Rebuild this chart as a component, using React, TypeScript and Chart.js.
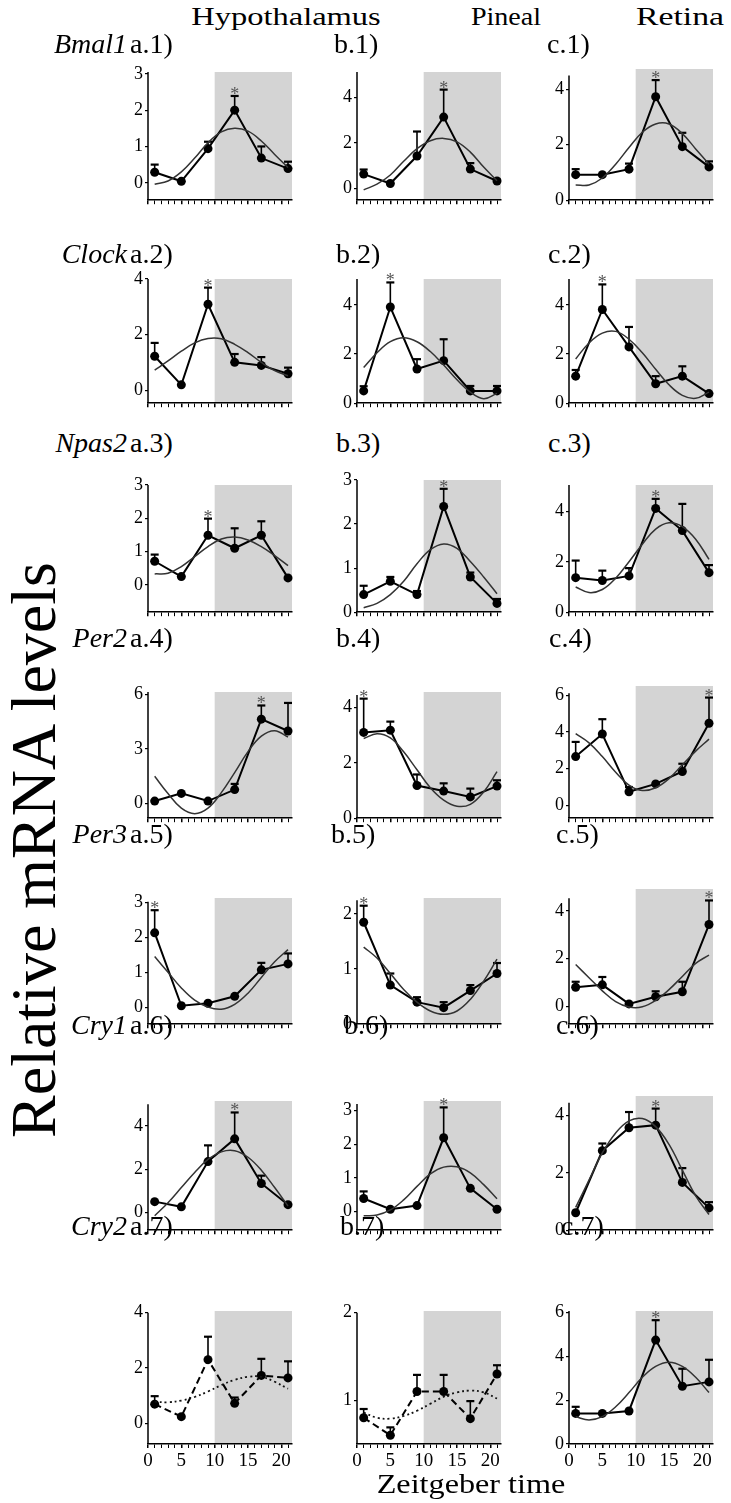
import React, { useEffect, useRef } from "react";
import { Chart, registerables } from "chart.js";

Chart.register(...registerables);

const FONT = "'Liberation Serif', 'Times New Roman', serif";

// ---------- shared axes ----------
const ZT = [1, 5, 9, 13, 17, 21];
const FIT_ZT = [1, 3, 5, 7, 9, 11, 13, 15, 17, 19, 21];
const X_TICKS = [0, 1, 2, 3, 4, 5, 6, 7, 8, 9, 10, 11, 12, 13, 14, 15, 16, 17, 18, 19, 20, 21];
const X_LABELED = [0, 5, 10, 15, 20];
const DARK_START = 10;
const X_MAX = 21.6;

const TISSUES = ["Hypothalamus", "Pineal", "Retina"];
const GENES = ["Bmal1", "Clock", "Npas2", "Per2", "Per3", "Cry1", "Cry2"];
const COLUMN_LETTERS = ["a", "b", "c"];

const TICKS_0123 = [0, 1, 2, 3];
const TICKS_024 = [0, 2, 4];
const TICKS_036 = [0, 3, 6];
const TICKS_0246 = [0, 2, 4, 6];
const TICKS_012 = [0, 1, 2];
const TICKS_12 = [1, 2];

// ---------- Bmal1 ----------
const bmal1HypMean = [0.29, 0.04, 0.94, 2.0, 0.68, 0.39];
const bmal1HypSem = [0.21, 0, 0.19, 0.39, 0.32, 0.19];
const bmal1HypFit = [-0.04, 0.05, 0.3, 0.68, 1.1, 1.4, 1.5, 1.42, 1.15, 0.78, 0.42];
const bmal1PinMean = [0.64, 0.23, 1.43, 3.13, 0.86, 0.34];
const bmal1PinSem = [0.2, 0, 1.07, 1.2, 0.26, 0.06];
const bmal1PinFit = [-0.05, 0.2, 0.6, 1.2, 1.75, 2.1, 2.2, 2.05, 1.6, 0.95, 0.35];
const bmal1RetMean = [0.92, 0.92, 1.12, 3.73, 1.93, 1.2];
const bmal1RetSem = [0.2, 0, 0.2, 0.6, 0.5, 0.2];
const bmal1RetFit = [0.55, 0.55, 0.8, 1.3, 1.9, 2.45, 2.75, 2.75, 2.4, 1.85, 1.3];

// ---------- Clock ----------
const clockHypMean = [1.22, 0.19, 3.09, 1.0, 0.89, 0.59];
const clockHypSem = [0.48, 0, 0.6, 0.3, 0.3, 0.22];
const clockHypFit = [0.72, 1.05, 1.4, 1.7, 1.86, 1.85, 1.65, 1.35, 1.0, 0.7, 0.52];
const clockPinMean = [0.5, 3.91, 1.39, 1.73, 0.5, 0.5];
const clockPinSem = [0.19, 1.0, 0.4, 0.87, 0.2, 0.2];
const clockPinFit = [1.45, 2.05, 2.5, 2.66, 2.5, 2.1, 1.55, 0.95, 0.45, 0.18, 0.4];
const clockRetMean = [1.1, 3.81, 2.29, 0.79, 1.1, 0.39];
const clockRetSem = [0.25, 1.02, 0.81, 0.31, 0.4, 0];
const clockRetFit = [1.8, 2.45, 2.85, 2.92, 2.6, 2.05, 1.38, 0.75, 0.32, 0.2, 0.45];

// ---------- Npas2 ----------
const npas2HypMean = [0.71, 0.25, 1.49, 1.1, 1.49, 0.21];
const npas2HypSem = [0.2, 0, 0.5, 0.6, 0.42, 0];
const npas2HypFit = [0.33, 0.35, 0.55, 0.85, 1.15, 1.38, 1.44, 1.35, 1.15, 0.88, 0.58];
const npas2PinMean = [0.4, 0.7, 0.4, 2.4, 0.8, 0.2];
const npas2PinSem = [0.2, 0.1, 0.08, 0.4, 0.1, 0.1];
const npas2PinFit = [0.1, 0.2, 0.4, 0.7, 1.1, 1.42, 1.55, 1.45, 1.15, 0.8, 0.42];
const npas2RetMean = [1.37, 1.26, 1.44, 4.12, 3.24, 1.57];
const npas2RetSem = [0.68, 0.39, 0.31, 0.38, 1.06, 0.3];
const npas2RetFit = [1.0, 0.78, 0.9, 1.35, 2.0, 2.7, 3.3, 3.55, 3.4, 2.9, 2.1];

// ---------- Per2 ----------
const per2HypMean = [0.14, 0.56, 0.14, 0.77, 4.63, 3.98];
const per2HypSem = [0, 0, 0, 0.31, 0.75, 1.54];
const per2HypFit = [1.5, 0.55, -0.25, -0.55, -0.25, 0.6, 1.7, 2.85, 3.7, 4.0, 3.65];
const per2PinMean = [3.1, 3.18, 1.18, 0.98, 0.77, 1.16];
const per2PinSem = [1.22, 0.31, 0.4, 0.28, 0.3, 0.21];
const per2PinFit = [2.88, 3.05, 2.9, 2.4, 1.75, 1.1, 0.65, 0.43, 0.5, 0.95, 1.68];
const per2RetMean = [2.65, 3.88, 0.73, 1.16, 1.84, 4.47];
const per2RetSem = [0.8, 0.81, 0.26, 0, 0.42, 1.4];
const per2RetFit = [3.9, 3.4, 2.65, 1.8, 1.1, 0.8, 0.95, 1.45, 2.2, 2.95, 3.6];

// ---------- Per3 ----------
const per3HypMean = [2.13, 0.04, 0.11, 0.31, 1.07, 1.24];
const per3HypSem = [0.65, 0, 0, 0, 0.2, 0.3];
const per3HypFit = [1.45, 1.0, 0.55, 0.2, 0.0, -0.06, 0.08, 0.4, 0.85, 1.3, 1.65];
const per3PinMean = [1.85, 0.71, 0.4, 0.3, 0.61, 0.92];
const per3PinSem = [0.3, 0.21, 0.09, 0.1, 0.1, 0.19];
const per3PinFit = [1.4, 1.2, 0.92, 0.63, 0.4, 0.24, 0.18, 0.24, 0.45, 0.78, 1.18];
const per3RetMean = [0.8, 0.9, 0.1, 0.4, 0.61, 3.43];
const per3RetSem = [0.23, 0.33, 0, 0.23, 0.42, 1.01];
const per3RetFit = [1.75, 1.2, 0.65, 0.2, -0.03, -0.02, 0.25, 0.7, 1.25, 1.8, 2.15];

// ---------- Cry1 ----------
const cry1HypMean = [0.5, 0.26, 2.35, 3.4, 1.34, 0.36];
const cry1HypSem = [0, 0, 0.75, 1.22, 0.36, 0];
const cry1HypFit = [-0.15, 0.45, 1.15, 1.85, 2.45, 2.8, 2.85, 2.55, 1.95, 1.15, 0.3];
const cry1PinMean = [0.39, 0.07, 0.18, 2.19, 0.69, 0.07];
const cry1PinSem = [0.21, 0, 0, 0.9, 0, 0];
const cry1PinFit = [-0.12, -0.1, 0.05, 0.35, 0.75, 1.12, 1.32, 1.33, 1.15, 0.8, 0.38];
const cry1RetMean = [0.61, 2.78, 3.58, 3.67, 1.67, 0.78];
const cry1RetSem = [0, 0.25, 0.55, 0.58, 0.5, 0.2];
const cry1RetFit = [0.8, 1.75, 2.7, 3.4, 3.82, 3.9, 3.62, 3.0, 2.1, 1.2, 0.55];

// ---------- Cry2 ----------
const cry2HypMean = [0.69, 0.24, 2.3, 0.72, 1.73, 1.64];
const cry2HypSem = [0.29, 0, 0.83, 0.21, 0.6, 0.6];
const cry2HypFit = [0.78, 0.76, 0.82, 0.95, 1.15, 1.38, 1.57, 1.68, 1.68, 1.5, 1.25];
const cry2PinMean = [0.8, 0.6, 1.1, 1.1, 0.79, 1.3];
const cry2PinSem = [0.1, 0.09, 0.19, 0.19, 0.2, 0.1];
const cry2PinFit = [0.86, 0.8, 0.79, 0.82, 0.88, 0.96, 1.04, 1.09, 1.11, 1.09, 1.02];
const cry2RetMean = [1.4, 1.4, 1.51, 4.75, 2.64, 2.84];
const cry2RetSem = [0.3, 0, 0, 0.91, 0.8, 1.01];
const cry2RetFit = [1.25, 1.1, 1.25, 1.7, 2.35, 3.05, 3.55, 3.74, 3.55, 3.05, 2.35];

// ---------- layout ----------
const PAD_L = 34;
const PAD_R = 8;
const PAD_T = 18;
const PLOT_W = 144;
const COL_X = [148, 357, 569];
const ROW_TOP = [72, 279, 485, 692, 898, 1101, 1311];
const ROW_BOTTOM = [207, 410, 619, 825, 1031, 1237, 1444];
const ROW_LABEL_BASELINE = [53, 263, 452, 647, 843, 1034, 1235];
const A_LABEL_X = 130;
const GENE_RIGHT_X = 127;
const B_LABEL_X = [334, 336, 336, 336, 331, 344, 340];
const C_LABEL_X = [547, 548, 548, 549, 556, 556, 561];
const LABEL_SIZE = 28;
const HEADER_CX = [286, 506, 680];
const HEADER_SX = [1.25, 1.08, 1.3];

type PanelSpec = {
  row: number;
  col: number;
  mean: number[];
  sem: number[];
  fit: number[];
  yMin: number;
  yMax: number;
  yTicks: number[];
  axisTop?: number;
  top?: number;
  star?: number;
  dashed?: boolean;
};

const PANELS: PanelSpec[] = [
  { row: 0, col: 0, mean: bmal1HypMean, sem: bmal1HypSem, fit: bmal1HypFit, yMin: -0.48, yMax: 3.05, yTicks: TICKS_0123, star: 13 },
  { row: 0, col: 1, mean: bmal1PinMean, sem: bmal1PinSem, fit: bmal1PinFit, yMin: -0.5, yMax: 5.1, yTicks: TICKS_024, star: 13 },
  { row: 0, col: 2, mean: bmal1RetMean, sem: bmal1RetSem, fit: bmal1RetFit, yMin: 0, yMax: 4.73, yTicks: TICKS_024, axisTop: 4.5, top: 69, star: 13 },

  { row: 1, col: 0, mean: clockHypMean, sem: clockHypSem, fit: clockHypFit, yMin: -0.47, yMax: 4.0, yTicks: TICKS_024, star: 9 },
  { row: 1, col: 1, mean: clockPinMean, sem: clockPinSem, fit: clockPinFit, yMin: 0, yMax: 5.05, yTicks: TICKS_024, star: 5 },
  { row: 1, col: 2, mean: clockRetMean, sem: clockRetSem, fit: clockRetFit, yMin: 0, yMax: 5.05, yTicks: TICKS_024, star: 5 },

  { row: 2, col: 0, mean: npas2HypMean, sem: npas2HypSem, fit: npas2HypFit, yMin: -0.82, yMax: 3.0, yTicks: TICKS_0123, star: 9 },
  { row: 2, col: 1, mean: npas2PinMean, sem: npas2PinSem, fit: npas2PinFit, yMin: 0, yMax: 3.0, yTicks: TICKS_0123, top: 480, star: 13 },
  { row: 2, col: 2, mean: npas2RetMean, sem: npas2RetSem, fit: npas2RetFit, yMin: 0, yMax: 5.05, yTicks: TICKS_024, star: 13 },

  { row: 3, col: 0, mean: per2HypMean, sem: per2HypSem, fit: per2HypFit, yMin: -0.8, yMax: 6.12, yTicks: TICKS_036, star: 17 },
  { row: 3, col: 1, mean: per2PinMean, sem: per2PinSem, fit: per2PinFit, yMin: 0, yMax: 4.56, yTicks: TICKS_024, axisTop: 4.45, star: 1 },
  { row: 3, col: 2, mean: per2RetMean, sem: per2RetSem, fit: per2RetFit, yMin: -0.71, yMax: 6.5, yTicks: TICKS_0246, axisTop: 6.1, top: 686, star: 21 },

  { row: 4, col: 0, mean: per3HypMean, sem: per3HypSem, fit: per3HypFit, yMin: -0.49, yMax: 3.13, yTicks: TICKS_0123, axisTop: 3.02, star: 1 },
  { row: 4, col: 1, mean: per3PinMean, sem: per3PinSem, fit: per3PinFit, yMin: 0, yMax: 2.29, yTicks: TICKS_012, axisTop: 2.25, star: 1 },
  { row: 4, col: 2, mean: per3RetMean, sem: per3RetSem, fit: per3RetFit, yMin: -0.75, yMax: 4.92, yTicks: TICKS_024, axisTop: 4.53, top: 889, star: 21 },

  { row: 5, col: 0, mean: cry1HypMean, sem: cry1HypSem, fit: cry1HypFit, yMin: -0.82, yMax: 5.15, yTicks: TICKS_024, axisTop: 5.0, star: 13 },
  { row: 5, col: 1, mean: cry1PinMean, sem: cry1PinSem, fit: cry1PinFit, yMin: -0.55, yMax: 3.28, yTicks: TICKS_0123, axisTop: 3.19, star: 13 },
  { row: 5, col: 2, mean: cry1RetMean, sem: cry1RetSem, fit: cry1RetFit, yMin: 0, yMax: 4.69, yTicks: TICKS_024, axisTop: 4.45, top: 1096, star: 13 },

  { row: 6, col: 0, mean: cry2HypMean, sem: cry2HypSem, fit: cry2HypFit, yMin: -0.75, yMax: 4.06, yTicks: TICKS_024, axisTop: 4.0, dashed: true },
  { row: 6, col: 1, mean: cry2PinMean, sem: cry2PinSem, fit: cry2PinFit, yMin: 0.5, yMax: 2.02, yTicks: TICKS_12, axisTop: 2.0, dashed: true },
  { row: 6, col: 2, mean: cry2RetMean, sem: cry2RetSem, fit: cry2RetFit, yMin: 0, yMax: 6.08, yTicks: TICKS_0246, star: 13 },
];

function PanelChart({ p }: { p: PanelSpec }) {
  const ref = useRef<HTMLCanvasElement>(null);
  const top = p.top ?? ROW_TOP[p.row];
  const bottom = ROW_BOTTOM[p.row];
  const showX = p.row === 6;
  const bottomH = showX ? 30 : 6;
  const w = PAD_L + PLOT_W + PAD_R;
  const h = PAD_T + (bottom - top) + bottomH;

  useEffect(() => {
    const canvas = ref.current;
    if (!canvas) return;

    const deco = {
      id: "panelDeco",
      beforeDraw(chart: any) {
        const { ctx, chartArea: a, scales } = chart;
        const x0 = scales.x.getPixelForValue(DARK_START);
        ctx.save();
        ctx.fillStyle = "#d4d4d4";
        ctx.fillRect(x0, a.top, a.right - x0, a.bottom - a.top);
        ctx.restore();
      },
      beforeDatasetsDraw(chart: any) {
        const { ctx, chartArea: a, scales } = chart;
        const xs = scales.x;
        const ys = scales.y;
        ctx.save();
        ctx.strokeStyle = "#000";
        ctx.setLineDash([]);
        ctx.lineWidth = 1.5;
        ctx.beginPath();
        ctx.moveTo(a.left, ys.getPixelForValue(p.axisTop ?? p.yMax));
        ctx.lineTo(a.left, a.bottom);
        ctx.stroke();
        ZT.forEach((x, i) => {
          const s = p.sem[i];
          if (!s) return;
          const px = xs.getPixelForValue(x);
          const y0 = ys.getPixelForValue(p.mean[i]);
          const y1 = ys.getPixelForValue(p.mean[i] + s);
          ctx.lineWidth = 1.6;
          ctx.beginPath();
          ctx.moveTo(px, y0);
          ctx.lineTo(px, y1);
          ctx.stroke();
          ctx.lineWidth = 2.2;
          ctx.beginPath();
          ctx.moveTo(px - 4, y1);
          ctx.lineTo(px + 4, y1);
          ctx.stroke();
        });
        ctx.restore();
      },
      afterDatasetsDraw(chart: any) {
        if (p.star === undefined) return;
        const { ctx, scales } = chart;
        const i = ZT.indexOf(p.star);
        const px = scales.x.getPixelForValue(p.star);
        const py = scales.y.getPixelForValue(p.mean[i] + (p.sem[i] || 0));
        ctx.save();
        ctx.fillStyle = "#555";
        ctx.font = `18px ${FONT}`;
        ctx.textAlign = "center";
        ctx.textBaseline = "alphabetic";
        ctx.fillText("*", px, py + 4);
        ctx.restore();
      },
    };

    const chart = new Chart(canvas, {
      type: "line",
      data: {
        datasets: [
          {
            data: FIT_ZT.map((x, i) => ({ x, y: p.fit[i] })),
            borderColor: p.dashed ? "#111" : "#333",
            borderWidth: p.dashed ? 1.8 : 1.5,
            borderDash: p.dashed ? [2, 3] : [],
            pointRadius: 0,
            tension: 0.4,
            fill: false,
            clip: false as any,
          },
          {
            data: ZT.map((x, i) => ({ x, y: p.mean[i] })),
            borderColor: "#000",
            borderWidth: 2,
            borderDash: p.dashed ? [7, 4] : [],
            pointRadius: 4.5,
            pointBackgroundColor: "#000",
            pointBorderColor: "#000",
            pointBorderWidth: 0,
            tension: 0,
            fill: false,
            clip: false as any,
          },
        ],
      },
      options: {
        responsive: false,
        maintainAspectRatio: false,
        animation: false,
        events: [],
        devicePixelRatio: 1,
        layout: { autoPadding: false, padding: { left: 0, top: PAD_T, right: PAD_R, bottom: 0 } },
        plugins: { legend: { display: false }, tooltip: { enabled: false } },
        scales: {
          x: {
            type: "linear",
            min: 0,
            max: X_MAX,
            afterBuildTicks: (s: any) => {
              s.ticks = X_TICKS.map((v) => ({ value: v }));
            },
            afterFit: (s: any) => {
              s.height = bottomH;
            },
            ticks: {
              autoSkip: false,
              maxRotation: 0,
              padding: 2,
              color: "#000",
              font: { family: FONT, size: 19 },
              callback: (v: any) => (showX && X_LABELED.includes(Number(v)) ? String(v) : ""),
            },
            grid: {
              display: true,
              drawOnChartArea: false,
              drawTicks: true,
              tickLength: 4,
              color: "#000",
              lineWidth: (ctx: any) => (ctx.tick && ctx.tick.value % 5 === 0 ? 1.5 : 1),
            },
            border: { display: true, color: "#000", width: 1.5 },
          },
          y: {
            type: "linear",
            min: p.yMin,
            max: p.yMax,
            afterBuildTicks: (s: any) => {
              s.ticks = p.yTicks.map((v) => ({ value: v }));
            },
            afterFit: (s: any) => {
              s.width = PAD_L;
            },
            ticks: {
              padding: 2,
              color: "#000",
              font: { family: FONT, size: 18 },
              callback: (v: any) => String(v),
            },
            grid: {
              display: true,
              drawOnChartArea: false,
              drawTicks: true,
              tickLength: 3,
              color: "#000",
              lineWidth: 1.2,
            },
            border: { display: false },
          },
        },
      } as any,
      plugins: [deco as any],
    });
    return () => chart.destroy();
  }, []);

  return (
    <canvas
      ref={ref}
      width={w}
      height={h}
      style={{ position: "absolute", left: COL_X[p.col] - PAD_L, top: top - PAD_T, width: w, height: h }}
    />
  );
}

function Txt(props: {
  text: string;
  x: number;
  baseline: number;
  size: number;
  italic?: boolean;
  align?: "left" | "center" | "right";
  sx?: number;
}) {
  const { text, x, baseline, size, italic, align = "left", sx = 1 } = props;
  const tx = align === "center" ? "-50%" : align === "right" ? "-100%" : "0";
  const origin = align === "center" ? "center center" : align === "right" ? "right center" : "left center";
  return (
    <div
      style={{
        position: "absolute",
        left: x,
        top: baseline - 0.8375 * size,
        fontFamily: FONT,
        fontSize: size,
        lineHeight: `${size}px`,
        fontStyle: italic ? "italic" : "normal",
        whiteSpace: "nowrap",
        color: "#000",
        transform: `translateX(${tx}) scaleX(${sx})`,
        transformOrigin: origin,
      }}
    >
      {text}
    </div>
  );
}

export default function App() {
  return (
    <div
      style={{
        position: "absolute",
        left: 0,
        top: 0,
        width: 731,
        height: 1503,
        background: "#fff",
        overflow: "hidden",
      }}
    >
      {PANELS.map((p, i) => (
        <PanelChart key={i} p={p} />
      ))}

      {TISSUES.map((t, i) => (
        <Txt key={t} text={t} x={HEADER_CX[i]} baseline={26} size={26} align="center" sx={HEADER_SX[i]} />
      ))}

      {GENES.map((g, r) => (
        <React.Fragment key={g}>
          <Txt text={g} x={GENE_RIGHT_X} baseline={ROW_LABEL_BASELINE[r]} size={LABEL_SIZE} italic align="right" />
          <Txt text={`${COLUMN_LETTERS[0]}.${r + 1})`} x={A_LABEL_X} baseline={ROW_LABEL_BASELINE[r]} size={LABEL_SIZE} />
          <Txt text={`${COLUMN_LETTERS[1]}.${r + 1})`} x={B_LABEL_X[r]} baseline={ROW_LABEL_BASELINE[r]} size={LABEL_SIZE} />
          <Txt text={`${COLUMN_LETTERS[2]}.${r + 1})`} x={C_LABEL_X[r]} baseline={ROW_LABEL_BASELINE[r]} size={LABEL_SIZE} />
        </React.Fragment>
      ))}

      <div
        style={{
          position: "absolute",
          left: 34 - 400,
          top: 850 - 32,
          width: 800,
          textAlign: "center",
          fontFamily: FONT,
          fontSize: 64,
          lineHeight: "64px",
          whiteSpace: "nowrap",
          color: "#000",
          transform: "rotate(-90deg)",
          transformOrigin: "center center",
        }}
      >
        Relative mRNA levels
      </div>

      <Txt text="Zeitgeber time" x={471} baseline={1493} size={28} align="center" sx={1.15} />
    </div>
  );
}
